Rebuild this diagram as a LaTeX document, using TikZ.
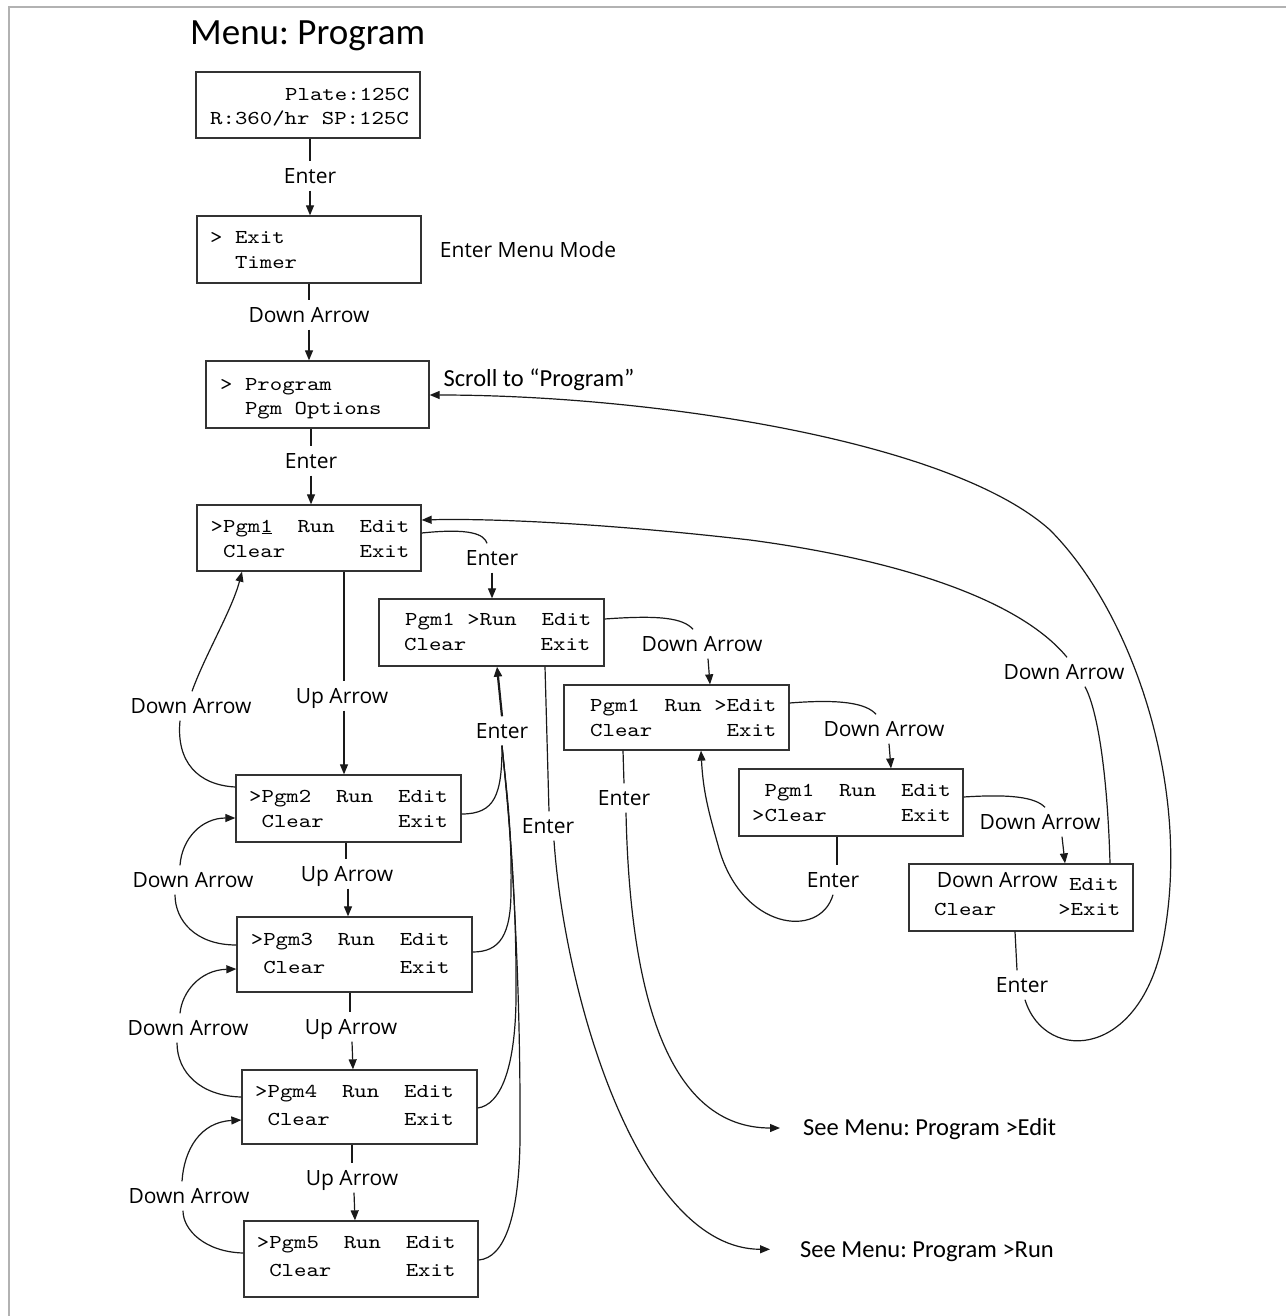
\documentclass[tikz,border=0pt]{standalone}
\usepackage{fontspec}
\setmainfont{Open Sans}
\newfontfamily\calfont{Carlito}
\newfontfamily\lcdfont[FakeStretch=1.2]{lmmono10-regular.otf}
\usetikzlibrary{arrows.meta,calc}
\frenchspacing

\begin{document}
\begin{tikzpicture}[x=1pt,y=-1pt,
  lcdbox/.style={draw=black!80, line width=1.3pt, inner sep=0pt},
  lcdtxt/.style={anchor=base west, inner sep=0pt, font=\lcdfont\fontsize{19.7}{22}\selectfont},
  key/.style={inner xsep=2pt, inner ysep=7pt, text height=15pt, text depth=0pt,
              font=\fontsize{21}{24}\selectfont},
  note/.style={inner sep=0pt, font=\calfont\fontsize{24.5}{28}\selectfont},
  conn/.style={line width=1.2pt, black!90},
  arr/.style={conn, -{Triangle[length=10pt,width=8pt]}}]

\useasboundingbox (0,0) rectangle (1286,1316);

% page frame
\draw[black!30, line width=2pt] (9,1316) -- (9,7) -- (1286,7);

% title
\node[anchor=base west, inner sep=0pt, font=\calfont\fontsize{37}{40}\selectfont] (title) at (190,44.3) {Menu: Program};

% ---------- display screens ----------
\node[lcdbox, minimum width=224pt, minimum height=66pt] (A) at (308,105) {};
\node[lcdtxt] (A1) at (285,100.5) {Plate:125C};
\node[lcdtxt] (A2) at (210,125) {R:360/hr~SP:125C};

\node[lcdbox, minimum width=224pt, minimum height=67pt] (B) at (309,249.5) {};
\node[lcdtxt] (B1) at (210,243) {>~Exit};
\node[lcdtxt] (B2) at (210,268) {~~Timer};

\node[lcdbox, minimum width=223pt, minimum height=67pt] (C) at (317.5,394.5) {};
\node[lcdtxt] (C1) at (220,390) {>~Program};
\node[lcdtxt] (C2) at (220,414) {~~Pgm~Options};

\node[lcdbox, minimum width=224pt, minimum height=66pt] (D) at (309,538) {};
\node[lcdtxt] (D1) at (210.5,532) {>Pgm\rlap{\hspace{1.3pt}\rule[-1.8pt]{10pt}{1.3pt}}1~~Run~~Edit};
\node[lcdtxt] (D2) at (210.5,557) {~Clear~~~~~~Exit};

\node[lcdbox, minimum width=225pt, minimum height=67pt] (E) at (491.5,632.5) {};
\node[lcdtxt] (E1) at (405,625.5) {Pgm1~>Run~~Edit};
\node[lcdtxt] (E2) at (404,650) {Clear~~~~~~Exit};

\node[lcdbox, minimum width=225pt, minimum height=65pt] (F) at (676.5,717.5) {};
\node[lcdtxt] (F1) at (590,711.5) {Pgm1~~Run~>Edit};
\node[lcdtxt] (F2) at (590,736) {Clear~~~~~~Exit};

\node[lcdbox, minimum width=224pt, minimum height=67pt] (G) at (851,802.5) {};
\node[lcdtxt] (G1) at (752,796.5) {~Pgm1~~Run~~Edit};
\node[lcdtxt] (G2) at (752,821.3) {>Clear~~~~~~Exit};

\node[lcdbox, minimum width=224pt, minimum height=67pt] (H) at (1021,897.5) {};
\node[anchor=base west, inner sep=0pt, font=\fontsize{21}{24}\selectfont] (H0) at (936.7,887) {Down Arrow};
\node[lcdtxt] (H1) at (1069,890) {Edit};
\node[lcdtxt] (H2) at (934,915) {Clear~~~~~>Exit};

\node[lcdbox, minimum width=225pt, minimum height=67pt] (P2) at (348.5,808.5) {};
\node[lcdtxt] (P2a) at (249,802.5) {>Pgm2~~Run~~Edit};
\node[lcdtxt] (P2b) at (249,827) {~Clear~~~~~~Exit};

\node[lcdbox, minimum width=235pt, minimum height=75pt] (P3) at (354.5,954.5) {};
\node[lcdtxt] (P3a) at (250.7,945) {>Pgm3~~Run~~Edit};
\node[lcdtxt] (P3b) at (250.7,973.3) {~Clear~~~~~~Exit};

\node[lcdbox, minimum width=235pt, minimum height=74pt] (P4) at (359.5,1107) {};
\node[lcdtxt] (P4a) at (255,1097.3) {>Pgm4~~Run~~Edit};
\node[lcdtxt] (P4b) at (255,1125.7) {~Clear~~~~~~Exit};

\node[lcdbox, minimum width=234pt, minimum height=76pt] (P5) at (361,1259) {};
\node[lcdtxt] (P5a) at (256.7,1248.3) {>Pgm5~~Run~~Edit};
\node[lcdtxt] (P5b) at (256.7,1276.7) {~Clear~~~~~~Exit};

% ---------- side notes ----------
\node[key] (mode) at (528,250) {Enter Menu Mode};
\node[note, text height=16pt, text depth=0pt] (scroll) at (539,378) {Scroll to “Program”};
\node[note, anchor=base west] (seeEdit) at (803,1135.7) {See Menu: Program >Edit};
\node[note, anchor=base west] (seeRun) at (800,1257.3) {See Menu: Program >Run};

% ---------- key labels ----------
\node[key] (lAB) at (310,176) {Enter};
\node[key] (lBC) at (309,315) {Down Arrow};
\node[key] (lCD) at (311,461) {Enter};
\node[key] (lDE) at (492,558) {Enter};
\node[key] (lEF) at (702,644) {Down Arrow};
\node[key] (lFG) at (884,729) {Down Arrow};
\node[key] (lGH) at (1040,822) {Down Arrow};
\node[key] (lHD) at (1064,672) {Down Arrow};
\node[key] (lHC) at (1022,985) {Enter};
\node[key] (lGF) at (833,880) {Enter};
\node[key] (lFX) at (624,798) {Enter};
\node[key] (lEX) at (548,826) {Enter};
\node[key] (lPE) at (502,731) {Enter};
\node[key] (lD2) at (342,696) {Up Arrow};
\node[key] (l23) at (347,874) {Up Arrow};
\node[key] (l34) at (351,1027) {Up Arrow};
\node[key] (l45) at (352,1178) {Up Arrow};
\node[key] (l2D) at (191,706) {Down Arrow};
\node[key] (l32) at (193,880) {Down Arrow};
\node[key] (l43) at (188,1028) {Down Arrow};
\node[key] (l54) at (189,1196) {Down Arrow};

% ---------- main chain ----------
\draw[conn] (A.south -| lAB) -- (lAB.north);
\draw[arr] (lAB.south) -- (B.north -| lAB.south);
\draw[conn] (B.south -| lBC) -- (lBC.north);
\draw[arr] (lBC.south) -- (C.north -| lBC.south);
\draw[conn] (C.south -| lCD) -- (lCD.north);
\draw[arr] (lCD.south) -- (D.north -| lCD.south);

% ---------- Pgm1 menu cursor ----------
\draw[conn] (D.east |- 0,533) .. controls (470,528) and (484,534) .. ([xshift=-5pt]lDE.north);
\draw[arr] (lDE.south) -- (E.north -| lDE.south);
\draw[conn] (E.east |- 0,619) .. controls (660,615) and (683,618) .. ([xshift=-9pt]lEF.north);
\draw[arr] ([xshift=6pt]lEF.south) -- (F.north -| 710,0);
\draw[conn] (F.east |- 0,703) .. controls (840,699) and (866,703) .. ([xshift=-8pt]lFG.north);
\draw[arr] ([xshift=5pt]lFG.south) -- (G.north -| 891,0);
\draw[conn] (G.east |- 0,797) .. controls (1010,794) and (1035,797) .. ([xshift=5pt]lGH.north);
\draw[arr] ([xshift=22pt]lGH.south) -- (H.north -| 1065,0);

% Exit -> Down Arrow back to Pgm1
\draw[conn] (H.north -| 1110,0) .. controls (1108,790) and (1100,715) .. ([xshift=21pt]lHD.south);
\draw[arr] ([xshift=3pt]lHD.north) .. controls (1020,600) and (900,560) .. (750,540)
           .. controls (620,525) and (500,518) .. (D.east |- 0,520);

% Exit -> Enter back to Program
\draw[conn] (H.south -| 1015,0) -- ([xshift=-5pt]lHC.north);
\draw[arr] ([xshift=3pt]lHC.south) .. controls (1045,1065) and (1145,1060) .. (1165,930)
           .. controls (1190,780) and (1130,610) .. (1050,530)
           .. controls (950,440) and (650,395) .. (C.east |- 0,395);

% Clear -> Enter back to Edit
\draw[conn] (G.south -| 837,0) -- ([xshift=4pt]lGF.north);
\draw[arr] (lGF.south) .. controls (820,940) and (740,930) .. (718,845)
           .. controls (708,810) and (703,790) .. (F.south -| 701,0);

% Edit / Run -> other menus
\draw[conn] (F.south -| 623,0) -- (lFX.north);
\draw[arr] ([xshift=2pt]lFX.south) .. controls (630,1000) and (670,1128) .. ($(seeEdit.base west)+(-23,-7.7)$);
\draw[conn] (E.south -| 545,0) -- ([xshift=1pt]lEX.north);
\draw[arr] ([xshift=6pt]lEX.south) .. controls (565,1000) and (640,1249) .. ($(seeRun.base west)+(-30,-8)$);

% ---------- program list ----------
\draw[conn] (D.south -| 344,0) -- (lD2.north -| 344,0);
\draw[arr] (lD2.south -| 344,0) -- (P2.north -| 344,0);
\draw[conn] (P2.south -| 346,0) -- (l23.north -| 346,0);
\draw[arr] (l23.south -| 348,0) -- (P3.north -| 348,0);
\draw[conn] (P3.south -| 350,0) -- (l34.north -| 350,0);
\draw[arr] (l34.south -| 352,0) -- (P4.north -| 353,0);
\draw[conn] (P4.south -| 352,0) -- (l45.north -| 352,0);
\draw[arr] (l45.south -| 354,0) -- (P5.north -| 355,0);

\draw[conn] (P2.west |- 0,787) .. controls (198,785) and (176,762) .. ([xshift=-11pt]l2D.south);
\draw[arr] ([xshift=1pt]l2D.north) .. controls (205,655) and (232,610) .. (D.south -| 242,0);
\draw[conn] (P3.west |- 0,945) .. controls (195,945) and (175,920) .. ([xshift=-18pt]l32.south);
\draw[arr] ([xshift=-13pt]l32.north) .. controls (182,838) and (202,818) .. (P2.west |- 0,818);
\draw[conn] (P4.west |- 0,1097) .. controls (200,1096) and (177,1072) .. ([xshift=-11pt]l43.south);
\draw[arr] ([xshift=-8pt]l43.north) .. controls (182,992) and (200,970) .. (P3.west |- 0,969);
\draw[conn] (P5.west |- 0,1253) .. controls (205,1252) and (183,1230) .. ([xshift=-6pt]l54.south);
\draw[arr] ([xshift=-7pt]l54.north) .. controls (184,1150) and (200,1122) .. (P4.west |- 0,1120);

% Enter from any program -> Run cursor
\draw[conn] (P2.east |- 0,814) .. controls (495,814) and (502,795) .. (lPE.south);
\draw[conn] (P3.east |- 0,952) .. controls (500,952) and (511,935) .. (511,890)
            .. controls (512,820) and (505,780) .. (lPE.south);
\draw[conn] (P4.east |- 0,1108) .. controls (500,1105) and (515,1070) .. (516,1000)
            .. controls (517,880) and (506,790) .. (lPE.south);
\draw[conn] (P5.east |- 0,1260) .. controls (505,1258) and (519,1215) .. (520,1140)
            .. controls (521,950) and (508,800) .. (lPE.south);
\draw[arr, line width=2.2pt] (lPE.north) -- (E.south -| 497,0);

\end{tikzpicture}
\end{document}
